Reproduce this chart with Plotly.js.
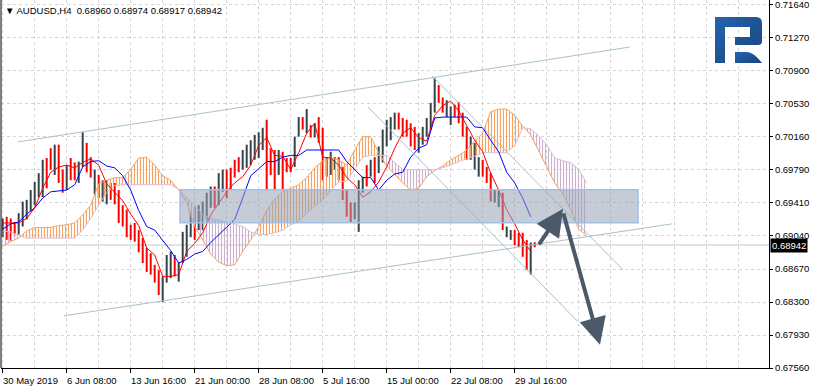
<!DOCTYPE html>
<html><head><meta charset="utf-8">
<script src="https://cdn.plot.ly/plotly-3.0.1.min.js"></script>
<style>html,body{margin:0;padding:0;background:#fff}#chart{width:815px;height:391px}</style>
</head><body><div id="chart"></div>
<script>
// ---- data (AUDUSD H4, bar index 0 = 30 May 2019 00:00, values every 2 bars) ----
const barOpen = [.6906,.6922,.6918,.6917,.6909,.6920,.6926,.6936,.6943,.6952,
 .6955,.6985,.6998,.6978,.7000,.6975,.6960,.6988,.6983,.6968,
 .6986,.7005,.6990,.6955,.6970,.6947,.6944,.6961,.6960,.6952,
 .6935,.6930,.6913,.6915,.6908,.6898,.6887,.6882,.6868,.6862,
 .6834,.6856,.6861,.6880,.6856,.6878,.6885,.6907,.6933,.6915,
 .6915,.6926,.6940,.6956,.6943,.6958,.6975,.6977,.6986,.6990,
 .6982,.6985,.6988,.6994,.6996,.7005,.7030,.6999,.6997,.6977,
 .6995,.6989,.6988,.6986,.7019,.7035,.7024,.7026,.7018,.7034,
 .7022,.6974,.6977,.6982,.6990,.6978,.6952,.6938,.6926,.6913,
 .6956,.6980,.6974,.6990,.6979,.6991,.7009,.7016,.7027,.7040,
 .7033,.7031,.7028,.7023,.7001,.7010,.7019,.7027,.7047,.7071,
 .7057,.7041,.7033,.7049,.7052,.7040,.7023,.6993,.6982,.6974,
 .6987,.6979,.6972,.6945,.6940,.6950,.6906,.6903,.6908,.6905,
 .6905,.6897,.6864,.68960];
const barHigh = [.6924,.6926,.6924,.6920,.6930,.6943,.6945,.6956,.6965,.6975,
 .6990,.6992,.7003,.7007,.7007,.6979,.6984,.6992,.6987,.6988,
 .7021,.7009,.6993,.6979,.6973,.6967,.6967,.6964,.6964,.6956,
 .6939,.6934,.6917,.6919,.6911,.6902,.6891,.6885,.6872,.6866,
 .6859,.6883,.6887,.6883,.6875,.6909,.6917,.6931,.6937,.6939,
 .6943,.6953,.6960,.6960,.6975,.6979,.6979,.6981,.6990,.6993,
 .7001,.7007,.7012,.7018,.7021,.7026,.7035,.7003,.7001,.7001,
 .6999,.6992,.6992,.7016,.7038,.7038,.7047,.7029,.7031,.7038,
 .7026,.6993,.6999,.6993,.6993,.6982,.6956,.6942,.6942,.6967,
 .6971,.6984,.6990,.6993,.7005,.7024,.7035,.7038,.7043,.7043,
 .7037,.7035,.7031,.7027,.7020,.7027,.7037,.7054,.7082,.7074,
 .7060,.7057,.7050,.7052,.7055,.7043,.7027,.7016,.7009,.6993,
 .6990,.6982,.6975,.6956,.6956,.6953,.6915,.6911,.6911,.6908,
 .6908,.6900,.6897,.68974];
const barLow = [.6903,.6900,.6899,.6906,.6906,.6915,.6923,.6932,.6939,.6948,
 .6948,.6958,.6979,.6973,.6964,.6953,.6956,.6967,.6967,.6964,
 .6982,.6976,.6970,.6951,.6947,.6943,.6940,.6945,.6940,.6919,
 .6915,.6903,.6900,.6898,.6886,.6874,.6864,.6861,.6852,.6838,
 .6830,.6852,.6857,.6859,.6853,.6874,.6881,.6903,.6900,.6911,
 .6911,.6922,.6936,.6936,.6939,.6954,.6947,.6956,.6970,.6976,
 .6979,.6981,.6984,.6990,.6992,.7001,.6956,.6973,.6956,.6973,
 .6956,.6976,.6976,.6982,.7016,.7024,.7020,.7015,.7015,.7009,
 .6967,.6971,.6973,.6979,.6967,.6945,.6926,.6919,.6923,.6909,
 .6953,.6960,.6971,.6964,.6975,.6987,.7005,.7012,.7024,.7024,
 .7016,.7016,.7005,.7001,.6998,.7007,.7016,.7024,.7043,.7054,
 .7043,.7038,.7029,.7038,.7031,.7016,.6990,.6990,.6979,.6971,
 .6971,.6964,.6943,.6942,.6937,.6911,.6903,.6900,.6894,.6892,
 .6881,.6866,.6861,.68917];
const barClose = [.6920,.6905,.6903,.6909,.6926,.6939,.6942,.6953,.6961,.6971,
 .6985,.6963,.6982,.7003,.6968,.6956,.6980,.6971,.6970,.6984,
 .7015,.6980,.6973,.6975,.6950,.6963,.6963,.6948,.6943,.6922,
 .6918,.6906,.6903,.6901,.6889,.6877,.6867,.6864,.6855,.6841,
 .6855,.6879,.6883,.6862,.6872,.6905,.6913,.6927,.6904,.6935,
 .6939,.6949,.6956,.6940,.6971,.6975,.6951,.6960,.6973,.6979,
 .6998,.7003,.7008,.7014,.7017,.7022,.6960,.6976,.6960,.6997,
 .6960,.6979,.6980,.7012,.7035,.7027,.7043,.7018,.7028,.7013,
 .6971,.6990,.6995,.6990,.6970,.6948,.6929,.6922,.6939,.6963,
 .6968,.6963,.6987,.6968,.7001,.7020,.7031,.7034,.7040,.7027,
 .7019,.7019,.7008,.7004,.7017,.7024,.7034,.7051,.7078,.7057,
 .7046,.7054,.7046,.7041,.7034,.7019,.6994,.7012,.7005,.6990,
 .6974,.6967,.6946,.6953,.6953,.6914,.6912,.6908,.6897,.6895,
 .6884,.6869,.6896,.68942];
// Ichimoku lines, one value every 4 bars
const tenkan = [.6919,.6919,.6919,.6924,.6936,.6958,.6976,.6982,.6984,.6981,
 .6987,.6991,.6984,.6963,.6953,.6944,.6929,.6916,.6891,.6883,
 .6859,.6859,.6861,.6887,.6896,.6908,.6928,.6941,.6954,.6964,
 .6971,.6984,.7006,.7015,.6995,.6994,.6979,.6998,.7020,.7031,
 .6993,.6992,.6984,.6970,.6962,.6948,.6954,.6965,.6982,.7003,
 .7020,.7026,.7015,.7011,.7040,.7051,.7056,.7045,.7029,.7012,
 .6999,.6975,.6956,.6934,.6918,.6900,.6887];
const kijun = [.6912,.6918,.6920,.6929,.6936,.6947,.6954,.6955,.6956,.6962,
 .6982,.6988,.6989,.6983,.6981,.6972,.6956,.6933,.6915,.6911,
 .6899,.6888,.6874,.6878,.6884,.6887,.6897,.6906,.6915,.6923,
 .6947,.6972,.6980,.6988,.6988,.6993,.6995,.6995,.7001,.7001,
 .7001,.7001,.7001,.6988,.6979,.6970,.6970,.6956,.6967,.6974,
 .6976,.6993,.7003,.7007,.7037,.7038,.7038,.7038,.7038,.7027,
 .7026,.7012,.6999,.6976,.6964,.6947,.6926];
const spanA = [.6893,.6898,.6902,.6910,.6914,.6914,.6914,.6916,.6917,.6919,
 .6928,.6939,.6963,.6967,.6970,.6970,.6979,.6992,.6993,.6984,
 .6972,.6967,.6956,.6942,.6915,.6900,.6884,.6875,.6871,.6872,
 .6887,.6900,.6915,.6933,.6946,.6954,.6958,.6962,.6970,.6981,
 .6989,.6992,.6990,.6984,.7001,.7016,.7016,.6998,.6983,.6973,
 .6964,.6956,.6958,.6971,.6978,.6983,.6990,.6995,.7001,.7011,
 .7020,.7044,.7047,.7047,.7040,.7028,.7018,.7000,.6982,.6964,
 .6952,.6934,.6912,.6905];
const spanB = [.6910,.6909,.6905,.6902,.6902,.6902,.6902,.6902,.6902,.6902,
 .6911,.6924,.6939,.6953,.6961,.6962,.6962,.6962,.6962,.6962,
 .6962,.6962,.6957,.6948,.6938,.6929,.6924,.6922,.6920,.6918,
 .6915,.6909,.6906,.6906,.6908,.6911,.6917,.6921,.6930,.6938,
 .6945,.6955,.6965,.6966,.6979,.6993,.6995,.6995,.6995,.6987,
 .6979,.6979,.6979,.6979,.6979,.6981,.6984,.6988,.6991,.6994,
 .6998,.6998,.6998,.6998,.7006,.7026,.7025,.7017,.7007,.6992,
 .6989,.6987,.6979,.6964];
// axis labels
const priceLabels = ['0.71640','0.71270','0.70900','0.70530','0.70160','0.69790','0.69410','0.69040','0.68670','0.68300','0.67930','0.67560'];
const dateLabels = ['30 May 2019','6 Jun 08:00','13 Jun 16:00','21 Jun 00:00','28 Jun 08:00','5 Jul 16:00','15 Jul 00:00','22 Jul 08:00','29 Jul 16:00'];
const dateBars = [0,32,64,96,128,160,192,224,256];
const lastPrice = 0.68942;
const headerText = '\u25BC AUDUSD,H4  0.68960 0.68974 0.68917 0.68942';
// drawing objects (bar index, price)
const trendLines = [[7.65,0.70101,313.65,0.71168],[30.65,0.68147,334.65,0.69180],[214.65,0.70843,310.15,0.68664],[182.65,0.70494,287.65,0.68080]];
const zone = [88.65,317.65,0.69192,0.69562];
const arrows = [[267.65,0.68933,280.15,0.69349],[280.15,0.69315,298.65,0.67822]];

// ---- rendering ----
const FONT = 'Liberation Sans, Arial, sans-serif';
const ORANGE = '#f4a460', THISTLE = '#d8bfd8';
const barX = barHigh.map((_, i) => i * 2);
const lineX = tenkan.map((_, i) => i * 4);
const cloudX = spanA.map((_, i) => i * 4);
const traces = [];

(function buildCloud(){
  let cur = null;
  const finish = c => {
    traces.push({type:'scatter', mode:'lines', x:c.xa.concat(c.xb.slice().reverse()), y:c.ya.concat(c.yb.slice().reverse()),
      fill:'toself', fillcolor:'rgba(0,0,0,0)', line:{width:0}, hoverinfo:'skip',
      fillpattern:{shape:'|', fgcolor:c.s>0?ORANGE:'#cdb0cd', bgcolor:'rgba(0,0,0,0)', size:3, solidity:0.38}});
  };
  for (let j = 0; j < cloudX.length; j++) {
    const s = spanA[j] >= spanB[j] ? 1 : -1;
    if (!cur) cur = {s, xa:[], ya:[], xb:[], yb:[]};
    else if (s !== cur.s) {
      const d0 = spanA[j-1]-spanB[j-1], d1 = spanA[j]-spanB[j];
      const t = d0/(d0-d1);
      const xc = cloudX[j-1]+t*(cloudX[j]-cloudX[j-1]);
      const yc = spanA[j-1]+t*(spanA[j]-spanA[j-1]);
      cur.xa.push(xc); cur.ya.push(yc); cur.xb.push(xc); cur.yb.push(yc);
      finish(cur);
      cur = {s, xa:[xc], ya:[yc], xb:[xc], yb:[yc]};
    }
    cur.xa.push(cloudX[j]); cur.ya.push(spanA[j]); cur.xb.push(cloudX[j]); cur.yb.push(spanB[j]);
  }
  finish(cur);
})();

traces.push({type:'scatter', mode:'lines', x:cloudX, y:spanA, line:{color:ORANGE, width:1}, hoverinfo:'skip'});
traces.push({type:'scatter', mode:'lines', x:cloudX, y:spanB, line:{color:THISTLE, width:1}, hoverinfo:'skip'});
traces.push({type:'ohlc', x:barX, open:barOpen, high:barHigh, low:barLow, close:barClose, tickwidth:0,
  increasing:{line:{color:'#36444a', width:2}}, decreasing:{line:{color:'#ff0000', width:2}}, hoverinfo:'skip'});
traces.push({type:'scatter', mode:'lines', x:lineX, y:tenkan, line:{color:'#ff0000', width:1}, hoverinfo:'skip'});
traces.push({type:'scatter', mode:'lines', x:lineX, y:kijun, line:{color:'#0000ff', width:1}, hoverinfo:'skip'});

const yTop = 0.71696, yBot = 0.67560;
const step = (0.71640 - 0.67560) / (priceLabels.length - 1);
const tickVals = priceLabels.map((_, i) => 0.71640 - i * step);

const shapes = [];
shapes.push({type:'line', xref:'paper', yref:'y', x0:0, x1:1, y0:lastPrice, y1:lastPrice, line:{color:'#c8c8c8', width:1}, layer:'below'});
trendLines.forEach(t => shapes.push({type:'line', xref:'x', yref:'y', x0:t[0], y0:t[1], x1:t[2], y1:t[3], line:{color:'#a9c1cf', width:1}, layer:'above'}));
shapes.push({type:'rect', xref:'x', yref:'y', x0:zone[0], x1:zone[1], y0:zone[2], y1:zone[3], fillcolor:'rgba(150,163,181,0.55)', line:{color:'#a2bfe6', width:1.5}, layer:'above'});
shapes.push({type:'line', xref:'paper', yref:'paper', x0:0, x1:0, y0:0, y1:1, line:{color:'#000', width:1}});

const annotations = [];
arrows.forEach(a => annotations.push({x:a[2], y:a[3], ax:a[0], ay:a[1], xref:'x', yref:'y', axref:'x', ayref:'y', text:'', showarrow:true,
  arrowhead:2, arrowsize:1.35, arrowwidth:4, arrowcolor:'#4b5a68', standoff:0, startstandoff:0}));
dateBars.forEach((b, i) => annotations.push({x:b, y:0, xref:'x', yref:'paper', text:dateLabels[i], showarrow:false,
  xanchor:'left', yanchor:'top', yshift:-5, xshift:-2, font:{family:FONT, size:9.5, color:'#000'}}));
annotations.push({x:0, y:1, xref:'paper', yref:'paper', text:headerText, showarrow:false, xanchor:'left', yanchor:'top',
  xshift:2, yshift:-3, font:{family:FONT, size:9.5, color:'#000'}});
annotations.push({x:1, y:lastPrice, xref:'paper', yref:'y', text:'0.68942', showarrow:false, xanchor:'left', yanchor:'middle',
  xshift:1, bgcolor:'#000', borderpad:1, font:{family:FONT, size:9.5, color:'#fff'}});

const logoSvg = '<svg xmlns="http://www.w3.org/2000/svg" viewBox="0 0 52 52" width="52" height="52">' +
  '<defs><linearGradient id="g" x1="0" y1="0" x2="1" y2="1"><stop offset="0" stop-color="#2663ad"/><stop offset="1" stop-color="#16457f"/></linearGradient></defs>' +
  '<path fill="url(#g)" d="M2,2 H43 Q49,2 49,8 V26 Q49,30 45,30 H22 V22 H37 V12 H12 V48 H2 Z"/>' +
  '<path fill="url(#g)" d="M22,37 H33 C40,37 44,42 49,48 H22 Z"/></svg>';

const layout = {
  width:815, height:391, margin:{l:1, r:46, t:0, b:23}, paper_bgcolor:'#fff', plot_bgcolor:'#fff', showlegend:false,
  xaxis:{range:[-0.85, 383.15], fixedrange:true, rangeslider:{visible:false}, zeroline:false,
    tickmode:'array', tickvals:dateBars, showticklabels:false, ticks:'outside', ticklen:4, tickcolor:'#000',
    showline:true, linecolor:'#000', linewidth:1,
    showgrid:true, gridcolor:'#d4d4d4', griddash:'3px,3px', gridwidth:1,
    minor:{tickmode:'linear', tick0:0, dtick:16, showgrid:true, gridcolor:'#d4d4d4', griddash:'3px,3px', ticks:''}},
  yaxis:{range:[yBot, yTop], fixedrange:true, side:'right', zeroline:false, ticklabeloverflow:'allow',
    tickmode:'array', tickvals:tickVals, ticktext:priceLabels, ticks:'outside', ticklen:3, tickcolor:'#000',
    tickfont:{family:FONT, size:9.5, color:'#000'}, showline:true, linecolor:'#000', linewidth:1,
    showgrid:true, gridcolor:'#d4d4d4', griddash:'3px,3px', gridwidth:1},
  shapes, annotations,
  images:[{source:'data:image/svg+xml;utf8,' + encodeURIComponent(logoSvg), xref:'paper', yref:'paper',
    x:712/768, y:1 - 15/368, sizex:52/768, sizey:52/368, xanchor:'left', yanchor:'top', sizing:'stretch', layer:'above'}]
};
Plotly.newPlot('chart', traces, layout, {staticPlot:true, displayModeBar:false});
</script></body></html>
